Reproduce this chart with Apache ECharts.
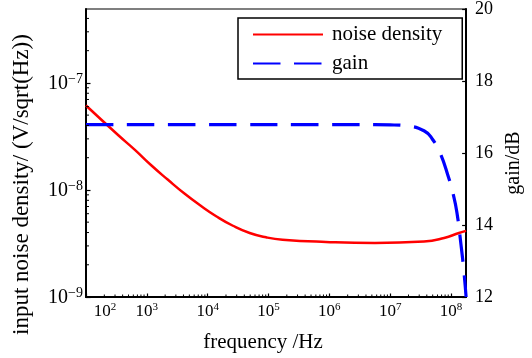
<!DOCTYPE html>
<html>
<head>
<meta charset="utf-8">
<script src="https://cdn.jsdelivr.net/npm/echarts@6/dist/echarts.min.js"></script>
<style>
  html, body { margin: 0; padding: 0; background: #fff; }
  #chart { width: 532px; height: 358px; }
</style>
</head>
<body>
<div id="chart"></div>
<script>
// noise density
const freqNoise = [100, 340, 630, 1180, 2200, 4100, 7600, 14000, 26000, 49000, 91000, 170000, 880000, 5.6e6, 3.6e7, 7.7e7, 1.35e8, 1.77e8];
const noiseDensity = [6.15e-8, 3.24e-8, 2.38e-8, 1.70e-8, 1.25e-8, 9.3e-9, 7.15e-9, 5.65e-9, 4.63e-9, 3.96e-9, 3.61e-9, 3.43e-9, 3.27e-9, 3.2e-9, 3.3e-9, 3.56e-9, 3.96e-9, 4.15e-9];

// gain
const freqGain = [100, 1e4, 1e6, 3e6, 1e7, 1.94e7, 3.65e7, 4.92e7, 6.62e7, 8.93e7, 1.08e8, 1.25e8, 1.45e8, 1.62e8, 1.77e8];
const gainDb = [16.79, 16.79, 16.79, 16.79, 16.78, 16.75, 16.61, 16.39, 16.0, 15.37, 14.87, 14.35, 13.49, 12.75, 12.0];

const xMinorTicks = [
  200, 300, 400, 500, 600, 700, 800, 900,
  2e3, 3e3, 4e3, 5e3, 6e3, 7e3, 8e3, 9e3,
  2e4, 3e4, 4e4, 5e4, 6e4, 7e4, 8e4, 9e4,
  2e5, 3e5, 4e5, 5e5, 6e5, 7e5, 8e5, 9e5,
  2e6, 3e6, 4e6, 5e6, 6e6, 7e6, 8e6, 9e6,
  2e7, 3e7, 4e7, 5e7, 6e7, 7e7, 8e7, 9e7
];
const yMinorTicks = [
  2e-9, 3e-9, 4e-9, 5e-9, 6e-9, 7e-9, 8e-9, 9e-9,
  2e-8, 3e-8, 4e-8, 5e-8, 6e-8, 7e-8, 8e-8, 9e-8,
  2e-7, 3e-7, 4e-7
];

const xMin = 100, xMax = 1.77e8;
const yMin = 1e-9, yMax = 4.9e-7;

const chart = echarts.init(document.getElementById('chart'));

function powLabel(value) {
  const e = Math.round(Math.log10(value));
  const exp = e < 0 ? '\u2212' + (-e) : String(e);
  return '{b|10}{s|' + exp + '}';
}

const richBottom = {
  b: { fontSize: 17, fontFamily: 'Liberation Serif', color: '#000', lineHeight: 18, verticalAlign: 'bottom' },
  s: { fontSize: 11, fontFamily: 'Liberation Serif', color: '#000', lineHeight: 18, verticalAlign: 'top', padding: [0, 0, 10, 0] },
  pad: { width: 38 }
};
const richLeft = {
  b: { fontSize: 20, fontFamily: 'Liberation Serif', color: '#000', lineHeight: 22, verticalAlign: 'bottom' },
  s: { fontSize: 14, fontFamily: 'Liberation Serif', color: '#000', lineHeight: 22, verticalAlign: 'top', padding: [0, 0, 11, 0] }
};

function minorX(params, api) {
  const p = api.coord([api.value(0), yMin]);
  return {
    type: 'line',
    shape: { x1: p[0], y1: p[1], x2: p[0], y2: p[1] - 2.5 },
    style: { stroke: '#000', lineWidth: 1 }
  };
}
function minorY(params, api) {
  const p = api.coord([xMin, api.value(1)]);
  return {
    type: 'line',
    shape: { x1: p[0], y1: p[1], x2: p[0] + 3, y2: p[1] },
    style: { stroke: '#000', lineWidth: 1 }
  };
}

const option = {
  animation: false,
  backgroundColor: '#fff',
  textStyle: { fontFamily: 'Liberation Serif', color: '#000' },
  grid: {
    left: 86, right: 59, top: 7, bottom: 61,
    show: true, borderColor: '#000', borderWidth: 1.2
  },
  legend: {
    orient: 'vertical',
    left: 238, top: 18,
    data: ['noise density', 'gain'],
    itemWidth: 70, itemHeight: 14, itemGap: 8,
    padding: [6, 20, 5, 14],
    borderColor: '#000', borderWidth: 1.5,
    itemStyle: { opacity: 0 },
    textStyle: { fontSize: 21, fontFamily: 'Liberation Serif', color: '#000', lineHeight: 21, padding: [0, 0, 0, 4] }
  },
  xAxis: {
    type: 'log', logBase: 10, min: xMin, max: xMax,
    name: 'frequency /Hz', nameLocation: 'middle', nameGap: 35,
    nameTextStyle: { fontSize: 21, fontFamily: 'Liberation Serif', color: '#000', padding: [0, 26, 0, 0] },
    axisLine: { lineStyle: { color: '#000', width: 2 } },
    axisTick: { inside: true, length: 3.5, lineStyle: { color: '#000', width: 1.2 } },
    axisLabel: {
      margin: 5, showMaxLabel: false, rich: richBottom,
      formatter: function (v) {
        const s = powLabel(v);
        return Math.abs(v - xMin) < 1 ? '{pad|}' + s : s;
      }
    },
    splitLine: { show: false }
  },
  yAxis: [
    {
      type: 'log', logBase: 10, min: yMin, max: yMax,
      name: 'input noise density/ (V/sqrt(Hz))', nameLocation: 'middle', nameGap: 53, nameRotate: 90,
      nameTextStyle: { fontSize: 23, fontFamily: 'Liberation Serif', color: '#000', padding: [0, 63, 0, 0] },
      axisLine: { show: true, lineStyle: { color: '#000', width: 2 } },
      axisTick: { inside: true, length: 4.5, lineStyle: { color: '#000', width: 1.2 } },
      axisLabel: { margin: 3, showMaxLabel: false, rich: richLeft, formatter: function (v) { return powLabel(v); } },
      splitLine: { show: false }
    },
    {
      type: 'value', min: 12, max: 20, interval: 2, position: 'right',
      name: 'gain/dB', nameLocation: 'middle', nameGap: 37, nameRotate: 90,
      nameTextStyle: { fontSize: 20, fontFamily: 'Liberation Serif', color: '#000', padding: [0, 20, 0, 0] },
      axisLine: { show: true, lineStyle: { color: '#000', width: 2 } },
      axisTick: { inside: true, length: 4, lineStyle: { color: '#000', width: 1.2 } },
      axisLabel: { margin: 9, fontSize: 18, fontFamily: 'Liberation Serif', color: '#000' },
      splitLine: { show: false }
    }
  ],
  series: [
    {
      name: 'noise density', type: 'line', xAxisIndex: 0, yAxisIndex: 0,
      data: freqNoise.map((f, i) => [f, noiseDensity[i]]),
      smooth: 0.5, symbol: 'none',
      lineStyle: { color: '#ff0000', width: 2.5 },
      itemStyle: { color: '#ff0000' }
    },
    {
      name: 'gain', type: 'line', xAxisIndex: 0, yAxisIndex: 1,
      data: freqGain.map((f, i) => [f, gainDb[i]]),
      smooth: 0.5, symbol: 'none',
      lineStyle: { color: '#0000ff', width: 3.2, type: [27.5, 13.5] },
      itemStyle: { color: '#0000ff' }
    },
    {
      name: 'xminor', type: 'custom', xAxisIndex: 0, yAxisIndex: 0, silent: true,
      renderItem: minorX, data: xMinorTicks.map(v => [v, yMin]), z: 5
    },
    {
      name: 'yminor', type: 'custom', xAxisIndex: 0, yAxisIndex: 0, silent: true,
      renderItem: minorY, data: yMinorTicks.map(v => [xMin, v]), z: 5
    }
  ]
};

chart.setOption(option);
</script>
</body>
</html>
